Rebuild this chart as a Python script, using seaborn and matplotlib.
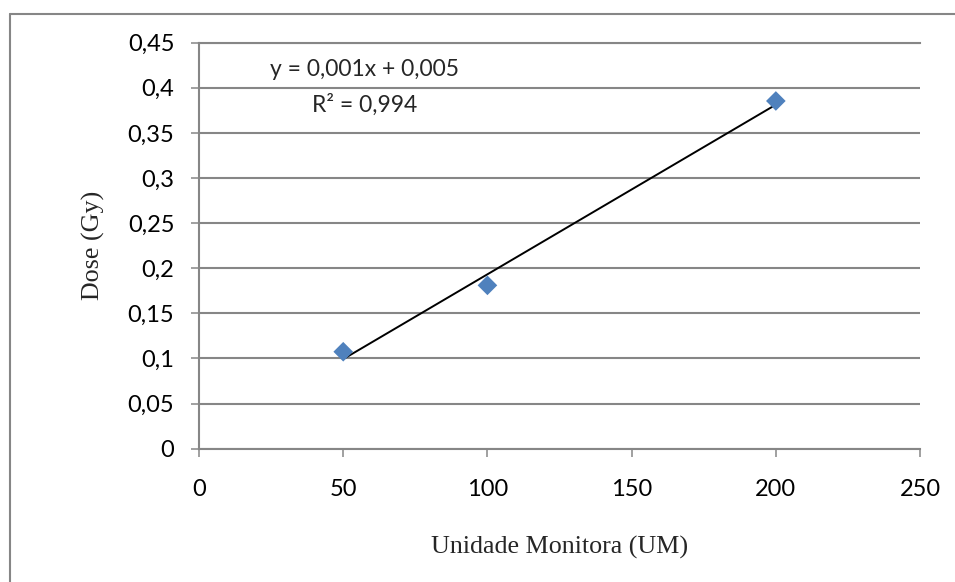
import numpy as np
import pandas as pd
import matplotlib
matplotlib.use("Agg")
import matplotlib.pyplot as plt
from matplotlib.lines import Line2D
import seaborn as sns

# Data
um = [50, 100, 200]
dose = [0.1074, 0.1810, 0.3854]

x_ticks = [0, 50, 100, 150, 200, 250]
y_ticks = [0, 0.05, 0.1, 0.15, 0.2, 0.25, 0.3, 0.35, 0.4, 0.45]
y_tick_labels = ["0", "0,05", "0,1", "0,15", "0,2", "0,25", "0,3", "0,35", "0,4", "0,45"]

equation = "y = 0,001x + 0,005"
r2_text = "R² = 0,994"

df = pd.DataFrame({"UM": um, "Dose": dose})

sns.set_style("white")
plt.rcParams["font.family"] = ["Lato", "DejaVu Sans"]

grid_col = "#868686"

fig = plt.figure(figsize=(9.55, 5.82), dpi=100)
ax = fig.add_axes([0.2084, 0.2292, 0.755, 0.6974])

# trendline (linear fit over the data range)
sns.regplot(data=df, x="UM", y="Dose", ax=ax, scatter=False, ci=None,
            truncate=True, line_kws={"color": "black", "lw": 1.4, "zorder": 3})

# points
sns.scatterplot(data=df, x="UM", y="Dose", ax=ax, marker="D", s=100,
                color="#4F81BD", edgecolor="none", linewidth=0, zorder=4)

ax.set_xlim(0, 250)
ax.set_ylim(0, 0.45)
ax.set_xticks(x_ticks)
ax.set_xticklabels([str(t) for t in x_ticks])
ax.set_yticks(y_ticks)
ax.set_yticklabels(y_tick_labels)

ax.yaxis.grid(True, color=grid_col, lw=1.5)
ax.xaxis.grid(False)
ax.set_axisbelow(True)

for side in ["left", "bottom", "top"]:
    ax.spines[side].set_color(grid_col)
    ax.spines[side].set_linewidth(1.5)
ax.spines["right"].set_visible(False)

ax.tick_params(axis="both", which="major", direction="out", length=5.8,
               width=1.1, color=grid_col, labelsize=17, labelcolor="black")
ax.tick_params(axis="x", pad=16, bottom=True)
ax.tick_params(axis="y", pad=12, left=True)

serif = ["Liberation Serif", "DejaVu Serif"]
ax.set_xlabel("Unidade Monitora (UM)", fontsize=18.7, family=serif, labelpad=26)
ax.set_ylabel("Dose (Gy)", fontsize=18.7, family=serif, labelpad=16)

ax.text(0.229, 0.933, equation, transform=ax.transAxes, ha="center",
        va="center", fontsize=16.5)
ax.text(0.229, 0.846, r2_text, transform=ax.transAxes, ha="center",
        va="center", fontsize=16.5)

# outer chart frame (only top and left edges visible)
fig.add_artist(Line2D([9.5 / 955, 9.5 / 955], [0, 1 - 13.5 / 582],
                      transform=fig.transFigure, color=grid_col, lw=1.5))
fig.add_artist(Line2D([9.5 / 955, 1], [1 - 13.5 / 582, 1 - 13.5 / 582],
                      transform=fig.transFigure, color=grid_col, lw=1.5))

fig.savefig("out.png", dpi=100)
